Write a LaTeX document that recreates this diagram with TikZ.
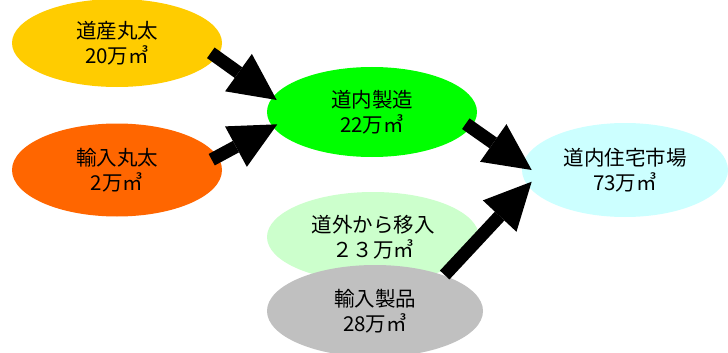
\documentclass[tikz,border=0pt]{standalone}
\usepackage{fontspec}
\setmainfont{Noto Sans CJK JP}
\usetikzlibrary{shapes.geometric,arrows.meta}
\definecolor{cyellow}{HTML}{FFCC00}
\definecolor{corange}{HTML}{FF6600}
\definecolor{cgreen}{HTML}{00FF00}
\definecolor{ccyan}{HTML}{CCFFFF}
\definecolor{cltgreen}{HTML}{CCFFCC}
\definecolor{cgray}{HTML}{C0C0C0}
\tikzset{
  blob/.style={ellipse, draw=none, inner sep=0pt, align=center,
    font=\fontsize{20.5}{25}\selectfont},
  flow/.style={black, line width=13pt,
    -{Triangle[length=47pt,width=46pt,line width=0pt]}}
}
\begin{document}
\begin{tikzpicture}[x=1pt,y=-1pt]
\clip (0,0) rectangle (728,353);
\fill[white] (0,0) rectangle (728,353);
\node[blob, fill=cyellow, minimum width=210pt, minimum height=88pt] (dosan) at (117,43) {道産丸太\\20万㎥};
\node[blob, fill=corange, minimum width=210pt, minimum height=93pt] (yunyu) at (117,170) {輸入丸太\\2万㎥};
\node[blob, fill=cgreen, minimum width=210pt, minimum height=90pt] (seizo) at (372,112) {道内製造\\22万㎥};
\node[blob, fill=ccyan, minimum width=206pt, minimum height=94pt] (jutaku) at (625,170) {道内住宅市場\\73万㎥};
\node[blob, fill=cltgreen, minimum width=212pt, minimum height=90pt] (dogai) at (373,237) {道外から移入\\２３万㎥};
\node[blob, fill=cgray, minimum width=216pt, minimum height=92pt] (seihin) at (375,311) {輸入製品\\28万㎥};
\coordinate (a1s) at (210.8,52.8);
\coordinate (a1e) at (276.7,100);
\coordinate (a2s) at (211.7,159.7);
\coordinate (a2e) at (277.3,124.3);
\coordinate (a3s) at (465.8,123.7);
\coordinate (a3e) at (531.7,170);
\coordinate (a4s) at (444.7,275);
\coordinate (a4e) at (531.7,181.7);
\draw[flow] (a1s) -- (a1e);
\draw[flow] (a2s) -- (a2e);
\draw[flow] (a3s) -- (a3e);
\draw[flow] (a4s) -- (a4e);
\end{tikzpicture}
\end{document}
